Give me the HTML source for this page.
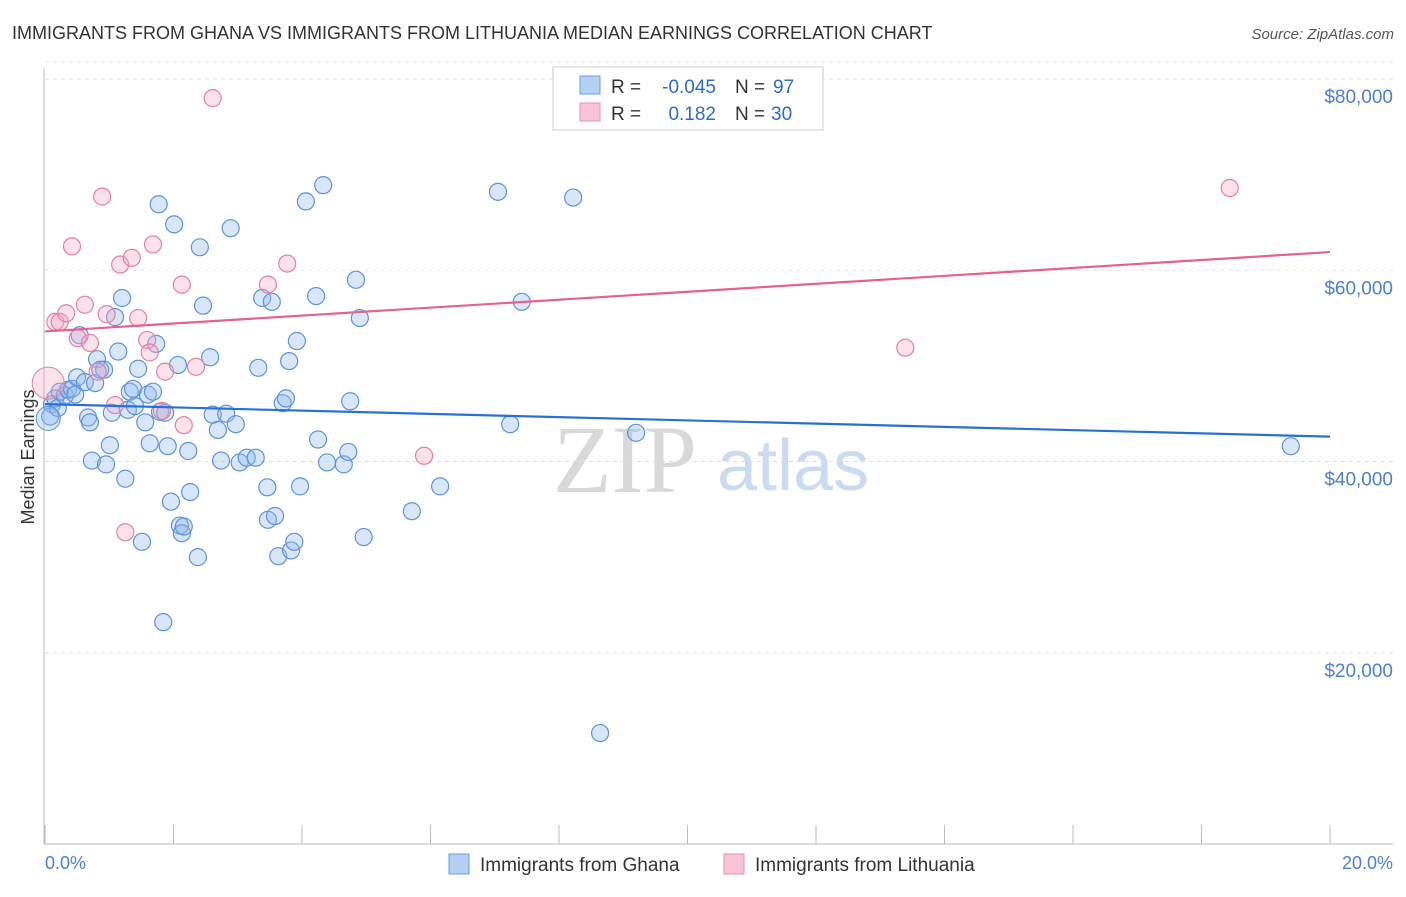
<!DOCTYPE html>
<html><head><meta charset="utf-8"><style>
body{margin:0;background:#fff;font-family:"Liberation Sans",sans-serif}
</style></head><body>
<svg width="1406" height="892" xmlns="http://www.w3.org/2000/svg" font-family="Liberation Sans, sans-serif">
<text x="12" y="39" font-size="18" fill="#333">IMMIGRANTS FROM GHANA VS IMMIGRANTS FROM LITHUANIA MEDIAN EARNINGS CORRELATION CHART</text>
<text x="1394" y="39" font-size="15" fill="#555" font-style="italic" text-anchor="end">Source: ZipAtlas.com</text>
<g>
<text x="553" y="492" font-size="96" fill="#d8d8d8" font-family="Liberation Serif, serif">ZIP</text>
<text x="717" y="490" font-size="72" fill="#c9daf2">atlas</text>
</g>
<g id="grid"></g>
<g id="axes"></g>
<g id="marks"></g>
<text transform="translate(34,457) rotate(-90)" font-size="18" fill="#333" text-anchor="middle">Median Earnings</text>
<text x="45" y="869" font-size="18" fill="#4a7fd4">0.0%</text>
<text x="1393" y="869" font-size="18" fill="#4a7fd4" text-anchor="end">20.0%</text>
<g>
<rect x="553" y="67" width="270" height="63" fill="#fff" stroke="#ccc"/>
<rect x="580" y="76" width="20" height="18" fill="#b5d0f5" stroke="#6a9de0"/>
<rect x="580" y="103" width="20" height="18" fill="#f8c3d4" stroke="#e890ae"/>
<text x="611" y="93" font-size="19" fill="#333">R =</text>
<text x="716" y="93" font-size="19" fill="#2a6bd0" text-anchor="end">-0.045</text>
<text x="735" y="93" font-size="19" fill="#333">N =</text>
<text x="773" y="93" font-size="19" fill="#2a6bd0">97</text>
<text x="611" y="120" font-size="19" fill="#333">R =</text>
<text x="716" y="120" font-size="19" fill="#2a6bd0" text-anchor="end">0.182</text>
<text x="735" y="120" font-size="19" fill="#333">N =</text>
<text x="771" y="120" font-size="19" fill="#2a6bd0">30</text>
</g>
<g>
<rect x="449" y="854" width="20" height="20" fill="#b5d0f5" stroke="#6a9de0"/>
<text x="480" y="871" font-size="19" fill="#333">Immigrants from Ghana</text>
<rect x="724" y="854" width="20" height="20" fill="#f8c3d4" stroke="#e890ae"/>
<text x="755" y="871" font-size="19" fill="#333">Immigrants from Lithuania</text>
</g>
</svg>
<script>
const yTicks=[20000,40000,60000,80000];
const yTickLabels=["$20,000","$40,000","$60,000","$80,000"];
const xTicks=[0,2,4,6,8,10,12,14,16,18,20];
const ghanaX=[0.08,0.11,0.16,0.20,0.23,0.31,0.36,0.42,0.47,0.50,0.54,0.62,0.67,0.70,0.73,0.78,0.81,0.86,0.92,0.95,1.01,1.04,1.09,1.14,1.20,1.25,1.29,1.32,1.37,1.40,1.45,1.51,1.56,1.60,1.63,1.68,1.73,1.77,1.79,1.84,1.87,1.91,1.96,2.01,2.07,2.10,2.13,2.16,2.23,2.26,2.38,2.41,2.46,2.57,2.61,2.69,2.74,2.82,2.89,2.97,3.03,3.14,3.28,3.32,3.38,3.46,3.47,3.53,3.58,3.63,3.70,3.75,3.80,3.83,3.88,3.92,3.97,4.06,4.22,4.25,4.33,4.39,4.65,4.72,4.75,4.84,4.90,4.96,5.71,6.15,7.05,7.24,7.42,8.22,8.64,9.20,19.39];
const ghanaY=[44.7,46.0,46.6,45.6,47.3,46.9,47.5,47.6,47.0,48.8,53.2,48.3,44.6,44.1,40.1,48.2,50.7,49.6,49.6,39.7,41.7,45.1,55.1,51.5,57.1,38.2,45.4,47.3,47.6,45.8,49.7,31.6,44.1,47.0,41.9,47.3,52.3,66.9,45.2,23.2,45.1,41.6,35.8,64.8,50.1,33.3,32.5,33.2,41.1,36.8,30.0,62.4,56.3,50.9,44.9,43.3,40.1,45.0,64.4,43.9,39.9,40.4,40.4,49.8,57.1,37.3,33.9,56.7,34.3,30.1,46.1,46.6,50.5,30.7,31.6,52.6,37.4,67.2,57.3,42.3,68.9,39.9,39.7,41.0,46.3,59.0,55.0,32.1,34.8,37.4,68.2,43.9,56.7,67.6,11.6,43.0,41.6];
const lithX=[0.16,0.23,0.33,0.42,0.51,0.62,0.70,0.82,0.89,0.96,1.09,1.17,1.25,1.35,1.45,1.59,1.63,1.68,1.82,1.87,2.13,2.16,2.35,2.61,3.47,3.77,5.90,13.39,18.44];
const lithY=[54.6,54.6,55.5,62.5,52.9,56.4,52.4,49.4,67.7,55.4,45.9,60.6,32.6,61.3,55.0,52.7,51.4,62.7,45.3,49.4,58.5,43.8,49.9,78.0,58.5,60.7,40.6,51.9,68.6];
const ghanaTrend=[46.0,42.6];
const lithTrend=[53.6,61.9];
(function(){
const NS="http://www.w3.org/2000/svg";
const xs=v=>45+v/20*1285;
const ys=v=>844-v/80000*765;
function mk(tag,attrs,parent){const e=document.createElementNS(NS,tag);for(const k in attrs)e.setAttribute(k,attrs[k]);document.getElementById(parent).appendChild(e);return e;}
yTicks.forEach((t,i)=>{
 const g=mk('line',{x1:45,x2:1393,y1:ys(t),y2:ys(t),stroke:'#ddd','stroke-dasharray':'4,4'},'grid');
 
 
 const l=mk('text',{x:1393,y:ys(t)+24,'font-size':19,fill:'#4a7fd4','text-anchor':'end'},'grid');
 l.textContent=yTickLabels[i];
 
 
});
const topGrid=mk('line',{x1:45,x2:1393,y1:ys(80000)-17,y2:ys(80000)-17,stroke:'#e4e4e4','stroke-dasharray':'4,4'},'grid');


const ax=mk('line',{x1:44,x2:44,y1:68,y2:844,stroke:'#bbb'},'axes');


const bx=mk('line',{x1:44,x2:1393,y1:844,y2:844,stroke:'#bbb'},'axes');


xTicks.forEach(t=>{
 const tk=mk('line',{x1:xs(t),x2:xs(t),y1:825,y2:844,stroke:'#bbb'},'axes');
 
 
});
function pts(X,Y,fill,stroke,name){
 X.forEach((x,i)=>{
  const c=mk('circle',{cx:xs(x),cy:ys(Y[i]*1000),r:8.5,fill:fill,'fill-opacity':0.35,stroke:stroke,'stroke-width':1.2},'marks');
  
  
 });
}
pts(ghanaX,ghanaY,'#8fb8ee','#5d93dc','ghana-point');
pts(lithX,lithY,'#f4a8c2','#e67fa3','lithuania-point');
const bg=mk('circle',{cx:xs(0.05),cy:ys(48200),r:16,fill:'#f4a8c2','fill-opacity':0.35,stroke:'#e67fa3'},'marks');


const bb=mk('circle',{cx:xs(0.05),cy:ys(44500),r:12,fill:'#8fb8ee','fill-opacity':0.35,stroke:'#5d93dc'},'marks');


const t1=mk('line',{x1:xs(0),x2:xs(20),y1:ys(ghanaTrend[0]*1000),y2:ys(ghanaTrend[1]*1000),stroke:'#2a6fd6','stroke-width':2.2},'marks');


const t2=mk('line',{x1:xs(0),x2:xs(20),y1:ys(lithTrend[0]*1000),y2:ys(lithTrend[1]*1000),stroke:'#e4628f','stroke-width':2.2},'marks');


})();
</script>
</body></html>
